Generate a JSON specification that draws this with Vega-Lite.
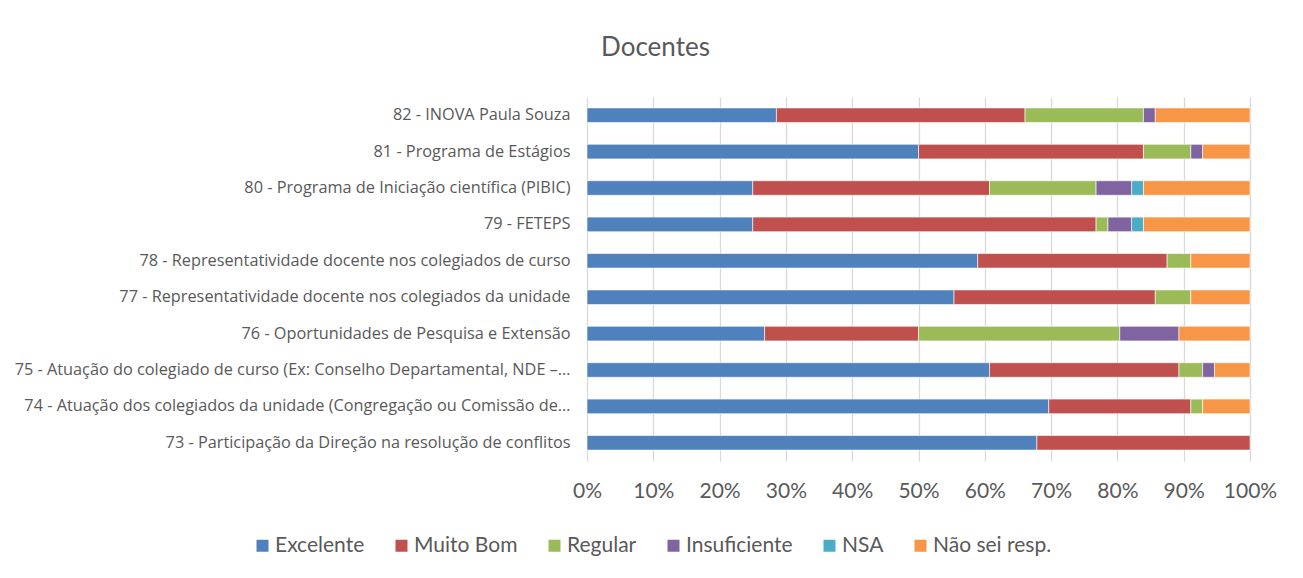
{
  "$schema": "https://vega.github.io/schema/vega-lite/v6.json",
  "autosize": {"type": "none"},
  "padding": {"left": 587, "top": 97, "right": 53, "bottom": 117},
  "width": 663,
  "height": 364,
  "background": "white",
  "title": {
    "text": "Docentes",
    "font": "Lato",
    "fontSize": 26,
    "fontWeight": "normal",
    "color": "#595959",
    "anchor": "middle",
    "frame": "group",
    "dx": -263,
    "offset": 36
  },
  "data": {
    "values": [
      {"item": "82 - INOVA Paula Souza", "cat": "Excelente", "ord": 1, "n": 16},
      {"item": "82 - INOVA Paula Souza", "cat": "Muito Bom", "ord": 2, "n": 21},
      {"item": "82 - INOVA Paula Souza", "cat": "Regular", "ord": 3, "n": 10},
      {"item": "82 - INOVA Paula Souza", "cat": "Insuficiente", "ord": 4, "n": 1},
      {"item": "82 - INOVA Paula Souza", "cat": "Não sei resp.", "ord": 6, "n": 8},
      {"item": "81 - Programa de Estágios", "cat": "Excelente", "ord": 1, "n": 28},
      {"item": "81 - Programa de Estágios", "cat": "Muito Bom", "ord": 2, "n": 19},
      {"item": "81 - Programa de Estágios", "cat": "Regular", "ord": 3, "n": 4},
      {"item": "81 - Programa de Estágios", "cat": "Insuficiente", "ord": 4, "n": 1},
      {"item": "81 - Programa de Estágios", "cat": "Não sei resp.", "ord": 6, "n": 4},
      {"item": "80 - Programa de Iniciação científica (PIBIC)", "cat": "Excelente", "ord": 1, "n": 14},
      {"item": "80 - Programa de Iniciação científica (PIBIC)", "cat": "Muito Bom", "ord": 2, "n": 20},
      {"item": "80 - Programa de Iniciação científica (PIBIC)", "cat": "Regular", "ord": 3, "n": 9},
      {"item": "80 - Programa de Iniciação científica (PIBIC)", "cat": "Insuficiente", "ord": 4, "n": 3},
      {"item": "80 - Programa de Iniciação científica (PIBIC)", "cat": "NSA", "ord": 5, "n": 1},
      {"item": "80 - Programa de Iniciação científica (PIBIC)", "cat": "Não sei resp.", "ord": 6, "n": 9},
      {"item": "79 - FETEPS", "cat": "Excelente", "ord": 1, "n": 14},
      {"item": "79 - FETEPS", "cat": "Muito Bom", "ord": 2, "n": 29},
      {"item": "79 - FETEPS", "cat": "Regular", "ord": 3, "n": 1},
      {"item": "79 - FETEPS", "cat": "Insuficiente", "ord": 4, "n": 2},
      {"item": "79 - FETEPS", "cat": "NSA", "ord": 5, "n": 1},
      {"item": "79 - FETEPS", "cat": "Não sei resp.", "ord": 6, "n": 9},
      {"item": "78 - Representatividade docente nos colegiados de curso", "cat": "Excelente", "ord": 1, "n": 33},
      {"item": "78 - Representatividade docente nos colegiados de curso", "cat": "Muito Bom", "ord": 2, "n": 16},
      {"item": "78 - Representatividade docente nos colegiados de curso", "cat": "Regular", "ord": 3, "n": 2},
      {"item": "78 - Representatividade docente nos colegiados de curso", "cat": "Não sei resp.", "ord": 6, "n": 5},
      {"item": "77 - Representatividade docente nos colegiados da unidade", "cat": "Excelente", "ord": 1, "n": 31},
      {"item": "77 - Representatividade docente nos colegiados da unidade", "cat": "Muito Bom", "ord": 2, "n": 17},
      {"item": "77 - Representatividade docente nos colegiados da unidade", "cat": "Regular", "ord": 3, "n": 3},
      {"item": "77 - Representatividade docente nos colegiados da unidade", "cat": "Não sei resp.", "ord": 6, "n": 5},
      {"item": "76 - Oportunidades de Pesquisa e Extensão", "cat": "Excelente", "ord": 1, "n": 15},
      {"item": "76 - Oportunidades de Pesquisa e Extensão", "cat": "Muito Bom", "ord": 2, "n": 13},
      {"item": "76 - Oportunidades de Pesquisa e Extensão", "cat": "Regular", "ord": 3, "n": 17},
      {"item": "76 - Oportunidades de Pesquisa e Extensão", "cat": "Insuficiente", "ord": 4, "n": 5},
      {"item": "76 - Oportunidades de Pesquisa e Extensão", "cat": "Não sei resp.", "ord": 6, "n": 6},
      {"item": "75 - Atuação do colegiado de curso (Ex: Conselho Departamental, NDE –…", "cat": "Excelente", "ord": 1, "n": 34},
      {"item": "75 - Atuação do colegiado de curso (Ex: Conselho Departamental, NDE –…", "cat": "Muito Bom", "ord": 2, "n": 16},
      {"item": "75 - Atuação do colegiado de curso (Ex: Conselho Departamental, NDE –…", "cat": "Regular", "ord": 3, "n": 2},
      {"item": "75 - Atuação do colegiado de curso (Ex: Conselho Departamental, NDE –…", "cat": "Insuficiente", "ord": 4, "n": 1},
      {"item": "75 - Atuação do colegiado de curso (Ex: Conselho Departamental, NDE –…", "cat": "Não sei resp.", "ord": 6, "n": 3},
      {"item": "74 - Atuação dos colegiados da unidade (Congregação ou Comissão de…", "cat": "Excelente", "ord": 1, "n": 39},
      {"item": "74 - Atuação dos colegiados da unidade (Congregação ou Comissão de…", "cat": "Muito Bom", "ord": 2, "n": 12},
      {"item": "74 - Atuação dos colegiados da unidade (Congregação ou Comissão de…", "cat": "Regular", "ord": 3, "n": 1},
      {"item": "74 - Atuação dos colegiados da unidade (Congregação ou Comissão de…", "cat": "Não sei resp.", "ord": 6, "n": 4},
      {"item": "73 - Participação da Direção na resolução de conflitos", "cat": "Excelente", "ord": 1, "n": 38},
      {"item": "73 - Participação da Direção na resolução de conflitos", "cat": "Muito Bom", "ord": 2, "n": 18}
    ]
  },
  "mark": {"type": "bar", "stroke": "white", "strokeWidth": 0.6},
  "encoding": {
    "y": {
      "field": "item",
      "type": "nominal",
      "sort": [
        "82 - INOVA Paula Souza",
        "81 - Programa de Estágios",
        "80 - Programa de Iniciação científica (PIBIC)",
        "79 - FETEPS",
        "78 - Representatividade docente nos colegiados de curso",
        "77 - Representatividade docente nos colegiados da unidade",
        "76 - Oportunidades de Pesquisa e Extensão",
        "75 - Atuação do colegiado de curso (Ex: Conselho Departamental, NDE –…",
        "74 - Atuação dos colegiados da unidade (Congregação ou Comissão de…",
        "73 - Participação da Direção na resolução de conflitos"
      ],
      "scale": {"paddingInner": 0.6, "paddingOuter": 0.3},
      "axis": {
        "title": null,
        "domain": false,
        "ticks": false,
        "labelPadding": 17,
        "labelFont": "Open Sans",
        "labelFontSize": 16.3,
        "labelColor": "#595959",
        "labelLimit": 600
      }
    },
    "x": {
      "field": "n",
      "type": "quantitative",
      "stack": "normalize",
      "scale": {"domain": [0, 1], "nice": false},
      "axis": {
        "title": null,
        "format": ".0%",
        "values": [0, 0.1, 0.2, 0.3, 0.4, 0.5, 0.6, 0.7, 0.8, 0.9, 1],
        "labelOverlap": false,
        "labelFlush": false,
        "domain": false,
        "ticks": false,
        "grid": true,
        "gridColor": "#d9d9d9",
        "gridWidth": 1.3,
        "labelPadding": 19,
        "labelFont": "Lato",
        "labelFontSize": 21,
        "labelColor": "#595959"
      }
    },
    "color": {
      "field": "cat",
      "type": "nominal",
      "scale": {
        "domain": ["Excelente", "Muito Bom", "Regular", "Insuficiente", "NSA", "Não sei resp."],
        "range": ["#4F81BD", "#C0504D", "#9BBB59", "#8064A2", "#4BACC6", "#F79646"]
      },
      "legend": {
        "title": null,
        "orient": "none",
        "direction": "horizontal",
        "legendX": -335,
        "legendY": 438,
        "symbolType": "square",
        "symbolSize": 144,
        "symbolStrokeWidth": 0,
        "labelFont": "Lato",
        "labelFontSize": 21,
        "labelColor": "#595959",
        "labelOffset": 2,
        "columnPadding": 26,
        "labelLimit": 300
      }
    },
    "order": {"field": "ord", "type": "quantitative"}
  },
  "config": {"view": {"stroke": null}}
}
